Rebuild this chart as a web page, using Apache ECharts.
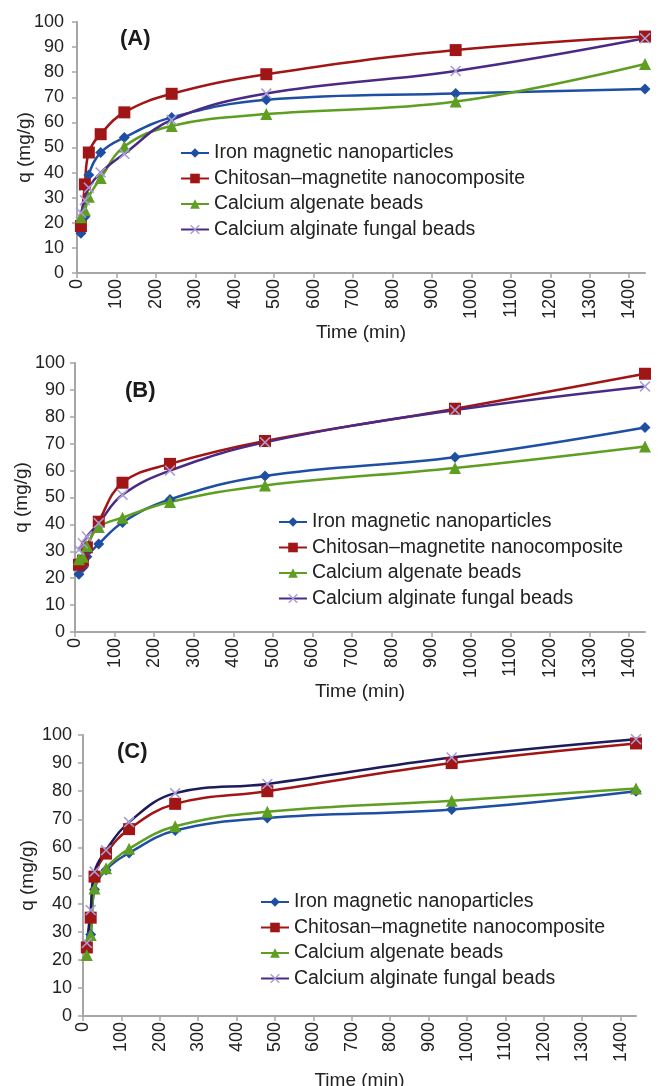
<!DOCTYPE html>
<html>
<head>
<meta charset="utf-8">
<script src="https://cdn.jsdelivr.net/npm/echarts@6/dist/echarts.min.js"></script>
<style>
  html, body { margin: 0; padding: 0; background: #fff; }
  #chart { width: 658px; height: 1086px; }
</style>
</head>
<body>
<div id="chart"></div>
<script>
    // time points (min), same for all three panels
    const times = [10, 20, 30, 60, 120, 240, 480, 960, 1440];
    const names = [
        'Iron magnetic nanoparticles',
        'Chitosan\u2013magnetite nanocomposite',
        'Calcium algenate beads',
        'Calcium alginate fungal beads'
    ];
    const xTicks = [0, 100, 200, 300, 400, 500, 600, 700, 800, 900, 1000, 1100, 1200, 1300, 1400];
    const panelLabels = ['(A)', '(B)', '(C)'];

    // (A)
    const ironA = [15.8, 22.4, 39, 48, 54, 62, 69, 71.5, 73.3];
    const chitosanA = [18.7, 35.3, 48, 55.3, 64, 71.4, 79.2, 88.8, 94.2];
    const algenateA = [22.2, 25, 30.4, 37.8, 50.4, 58.6, 63.3, 68.3, 83.3];
    const fungalA = [24, 29, 34, 40, 47.5, 61, 71.5, 80.5, 93.5];
    // (B)
    const ironB = [21.5, 24, 28, 32.7, 40.7, 49.3, 58, 65, 76];
    const chitosanB = [25, 26.5, 31.5, 41, 55.5, 62.5, 71, 83, 96];
    const algenateB = [27, 28, 32, 39, 42.5, 48.3, 54.5, 61, 69];
    const fungalB = [30.5, 33, 35.5, 40.5, 51, 60, 70.5, 82.5, 91.3];
    // (C)
    const ironC = [24, 29, 45, 52, 58, 66, 70.5, 73.5, 80];
    const chitosanC = [24.4, 35, 49.6, 57.8, 66.5, 75.5, 80, 90, 97];
    const algenateC = [21.7, 28.8, 45.4, 52.6, 59.5, 67.5, 72.7, 76.6, 81];
    const fungalC = [26, 37.7, 51.4, 59, 69, 79.3, 82.6, 92, 98.5];

    const panels = [
        [ironA, chitosanA, algenateA, fungalA],
        [ironB, chitosanB, algenateB, fungalB],
        [ironC, chitosanC, algenateC, fungalC]
    ];

    const FONT = '"Liberation Sans", Arial, sans-serif';
    const xSymbol = 'path://M0,1L1,0L5,4L9,0L10,1L6,5L10,9L9,10L5,6L1,10L0,9L4,5Z';
    const styles = [
        {color: '#1f4fa3', symbol: 'diamond', size: 11},
        {color: '#a01515', symbol: 'rect', size: 12},
        {color: '#5e9e20', symbol: 'triangle', size: 12},
        {color: '#4b2a86', symbol: xSymbol, size: 11, markColor: '#a89cd8'}
    ];

    // grid boxes in pixels
    const grids = [
        {left: 77, top: 22, width: 568, height: 251, outerBoundsMode: 'none'},
        {left: 75, top: 363, width: 570, height: 269, outerBoundsMode: 'none'},
        {left: 83, top: 735, width: 553, height: 281, outerBoundsMode: 'none'}
    ];
    const nameGaps = [50, 50, 55];
    const yNameGaps = [43, 43.5, 46];
    const yLabelMargins = [13, 10, 11];
    const legendPos = [
        {left: 180, top: 143},
        {left: 278, top: 512},
        {left: 260, top: 892}
    ];
    const titlePos = [
        {left: 120, top: 28},
        {left: 125, top: 380},
        {left: 117, top: 741}
    ];

    let chart = echarts.init(document.getElementById('chart'));

    let series = [];
    panels.forEach((vals, p) => {
        vals.forEach((v, k) => {
            let st = styles[k];
            let lineColor = st.color;
            if (k === 3 && p === 2) {
                lineColor = '#1d1b5c';
            }
            series.push({
                name: names[k],
                type: 'line',
                xAxisIndex: p,
                yAxisIndex: p,
                smooth: 0.4,
                symbol: st.symbol,
                symbolSize: st.size,
                lineStyle: {width: 2.5, color: lineColor},
                itemStyle: {color: st.markColor || lineColor},
                data: times.map((t, i) => [t, v[i]])
            });
        });
    });

    let option = {
        backgroundColor: '#fff',
        animation: false,
        title: panelLabels.map((t, p) => ({
            text: t,
            left: titlePos[p].left,
            top: titlePos[p].top,
            padding: 0,
            textStyle: {fontFamily: FONT, fontSize: 22, fontWeight: 'bold', color: '#1a1a1a'}
        })),
        legend: legendPos.map((pos) => ({
            data: names,
            orient: 'vertical',
            left: pos.left,
            top: pos.top,
            padding: 0,
            itemWidth: 28,
            itemHeight: 12,
            itemGap: 5.5,
            selectedMode: false,
            textStyle: {fontFamily: FONT, fontSize: 19.5, color: '#222', lineHeight: 20}
        })),
        grid: grids,
        xAxis: grids.map((g, p) => ({
            type: 'value',
            gridIndex: p,
            min: 0,
            max: 1440,
            interval: 100,
            name: 'Time (min)',
            nameLocation: 'middle',
            nameGap: nameGaps[p],
            nameMoveOverlap: false,
            nameTextStyle: {fontFamily: FONT, fontSize: 19, color: '#222'},
            axisLine: {show: true, lineStyle: {color: '#a6a6a6', width: 2}},
            axisTick: {show: true, length: 5, customValues: xTicks, lineStyle: {color: '#a6a6a6', width: 1.5}},
            axisLabel: {
                customValues: xTicks,
                formatter: (v) => String(v),
                rotate: 90,
                margin: 6,
                fontFamily: FONT,
                fontSize: 18,
                color: '#222'
            },
            splitLine: {show: false}
        })),
        yAxis: grids.map((g, p) => ({
            type: 'value',
            gridIndex: p,
            min: 0,
            max: 100,
            interval: 10,
            name: 'q (mg/g)',
            nameLocation: 'middle',
            nameGap: yNameGaps[p],
            nameMoveOverlap: false,
            nameTextStyle: {fontFamily: FONT, fontSize: 19, color: '#222'},
            axisLine: {show: true, lineStyle: {color: '#a6a6a6', width: 2}},
            axisTick: {show: true, length: 5, lineStyle: {color: '#a6a6a6', width: 1.5}},
            axisLabel: {margin: yLabelMargins[p], fontFamily: FONT, fontSize: 18, color: '#222'},
            splitLine: {show: false}
        })),
        series: series
    };

    chart.setOption(option);
</script>
</body>
</html>
